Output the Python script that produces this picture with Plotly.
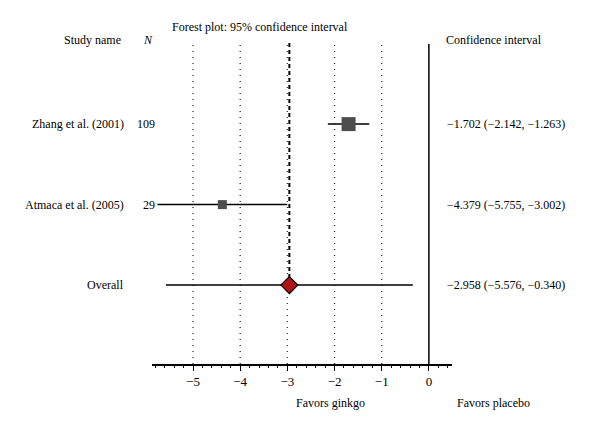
import plotly.graph_objects as go

studies = ["Zhang et al. (2001)", "Atmaca et al. (2005)", "Overall"]
n_values = ["109", "29", ""]
estimates = [-1.702, -4.379, -2.958]
lower = [-2.142, -5.755, -5.576]
upper = [-1.263, -3.002, -0.340]
row_pos = [3, 2, 1]
marker_sizes = [14, 9]
ci_labels = ["\u22121.702 (\u22122.142, \u22121.263)",
             "\u22124.379 (\u22125.755, \u22123.002)",
             "\u22122.958 (\u22125.576, \u22120.340)"]
tick_vals = [-5, -4, -3, -2, -1, 0]
tick_text = ["\u22125", "\u22124", "\u22123", "\u22122", "\u22121", "0"]

FONT = "Liberation Serif"
OFF = 8  # page body margin
W, H = 600 - OFF, 428 - OFF
x0_px, x1_px = 152 - OFF, 452 - OFF
y_top_px, y_bot_px = 42 - OFF, 364 - OFF

fig = go.Figure()

# dotted gridlines
for v in tick_vals[:-1]:
    fig.add_trace(go.Scatter(x=[v, v], y=[0.02, 4.02], mode="lines",
                             line=dict(color="#333", width=1.3, dash="1px,5px"),
                             hoverinfo="skip", showlegend=False))
# zero line
fig.add_trace(go.Scatter(x=[0, 0], y=[0.02, 3.995], mode="lines",
                         line=dict(color="black", width=1.5),
                         hoverinfo="skip", showlegend=False))
# overall dashed line
fig.add_trace(go.Scatter(x=[estimates[2], estimates[2]], y=[row_pos[2], 4.02], mode="lines",
                         line=dict(color="black", width=2, dash="4px,3px"),
                         hoverinfo="skip", showlegend=False))

# CI lines
for i in range(3):
    fig.add_trace(go.Scatter(x=[lower[i], upper[i]], y=[row_pos[i], row_pos[i]], mode="lines",
                             line=dict(color="black", width=1.5),
                             hoverinfo="skip", showlegend=False))

# study squares
fig.add_trace(go.Scatter(x=estimates[:2], y=row_pos[:2], mode="markers",
                         marker=dict(symbol="square", size=marker_sizes, color="#4d4d4d",
                                     opacity=1, line=dict(width=0)),
                         showlegend=False))
# overall diamond
fig.add_trace(go.Scatter(x=[estimates[2]], y=[row_pos[2]], mode="markers",
                         marker=dict(symbol="diamond", size=13, color="#b01414",
                                     opacity=1, line=dict(color="black", width=1.2)),
                         showlegend=False))


def px_x(px):
    return (px - OFF) / W


def px_y(py):
    return 1 - (py - OFF) / H


font = dict(family=FONT, size=12, color="black")

# row texts
for i in range(3):
    fig.add_annotation(x=px_x(126), xref="paper", y=row_pos[i], yref="y",
                       text=studies[i], showarrow=False, xanchor="right",
                       yanchor="middle", font=font)
    if n_values[i]:
        fig.add_annotation(x=px_x(157), xref="paper", y=row_pos[i], yref="y",
                           text=n_values[i], showarrow=False, xanchor="right",
                           yanchor="middle", font=font)
    fig.add_annotation(x=px_x(445), xref="paper", y=row_pos[i], yref="y",
                       text=ci_labels[i], showarrow=False, xanchor="left",
                       yanchor="middle", font=font)

# headers
headers = [
    (62, 40, "Study name", "left"),
    (148, 40, "<i>N</i>", "center"),
    (444, 40, "Confidence interval", "left"),
    (260, 27, "Forest plot: 95% confidence interval", "center"),
    (330, 403, "Favors ginkgo", "center"),
    (493, 403, "Favors placebo", "center"),
]
for hx, hy, txt, anchor in headers:
    fig.add_annotation(x=px_x(hx), xref="paper", y=px_y(hy), yref="paper",
                       text=txt, showarrow=False, xanchor=anchor, yanchor="middle",
                       font=font)

fig.update_layout(
    width=W, height=H,
    margin=dict(l=0, r=0, t=0, b=0),
    plot_bgcolor="white", paper_bgcolor="white",
    xaxis=dict(domain=[x0_px / W, x1_px / W], range=[-5.87, 0.49],
               tickvals=tick_vals, ticktext=tick_text,
               showgrid=False, zeroline=False,
               showline=True, linecolor="black", linewidth=1.5,
               ticks="outside", ticklen=5, tickwidth=1.2, tickcolor="black",
               minor=dict(dtick=0.2, tick0=0, ticks="outside", ticklen=2,
                          tickcolor="black", tickwidth=1),
               tickfont=dict(family=FONT, size=13, color="black"),
               fixedrange=True),
    yaxis=dict(domain=[1 - y_bot_px / H, 1 - y_top_px / H], range=[0.02, 4.02],
               showgrid=False, zeroline=False, showline=False, showticklabels=False,
               fixedrange=True),
)

fig.write_html("out.html")
